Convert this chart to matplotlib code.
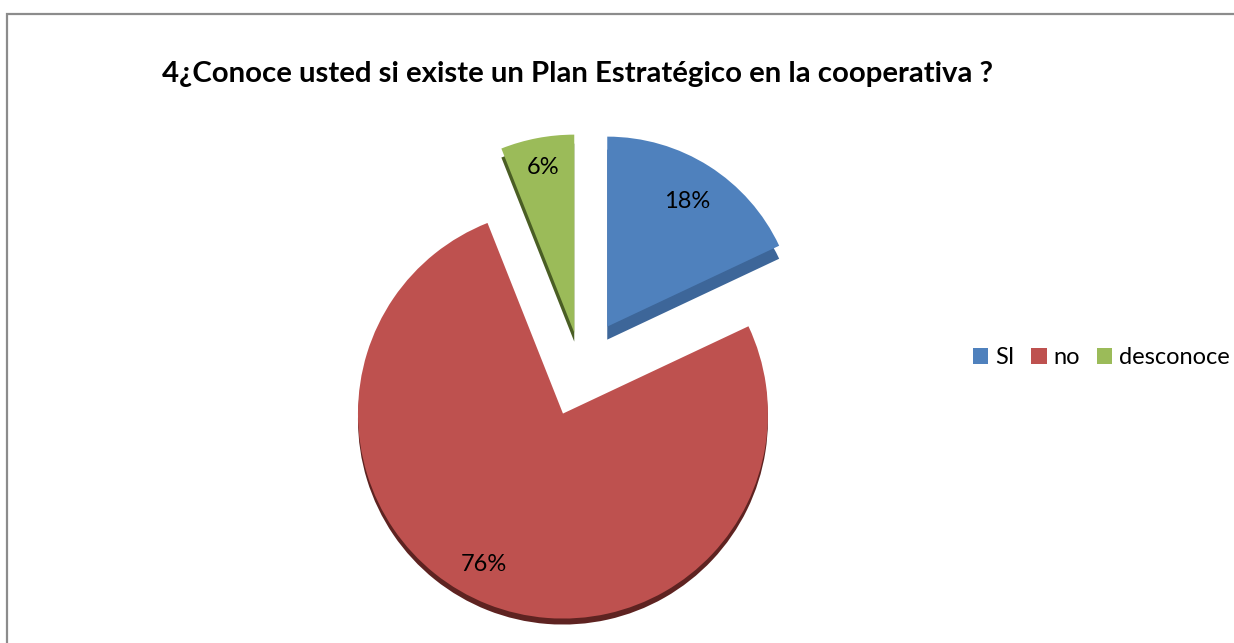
import matplotlib
matplotlib.use("Agg")
import matplotlib.pyplot as plt
from matplotlib.patches import Rectangle, Wedge
import numpy as np

# Survey answers (percent of respondents)
categories = ["SI", "no", "desconoce"]
shares = [18, 76, 6]
title = "4¿Conoce usted si existe un Plan Estratégico en la cooperativa ?"

W, H = 1234, 643
fig = plt.figure(figsize=(W / 100, H / 100), dpi=100)
fig.patch.set_facecolor("white")
plt.rcParams["font.family"] = ["Lato", "DejaVu Sans"]

# chart-area border (runs past the right and bottom edges)
fig.add_artist(Rectangle((7 / W, -0.1), 1.2, (H - 14) / H + 0.1,
                         transform=fig.transFigure, fill=False,
                         edgecolor="#8c8c8c", linewidth=1.6, zorder=0))

R = 200.0            # pie radius in pixels
cx, cy = 581, 368    # pie centre in pixels, measured from the top-left
ax = fig.add_axes([0, 0, 1, 1])

top_colors = ["#4F81BD", "#BE514F", "#9BBB59"]
side_colors = ["#3D6699", "#5E2321", "#4A5E24"]
depth_px = [13, 6, 9]
explode = [0.245, 0.245, 0.18]
# slight perspective: the near (lower) slice looks larger than the far ones
radius_scale = [0.95, 1.025, 0.99]
label_dist = [0.78, 0.83, 0.85]
label_turn = [0, -6, 0]

wedges, _, autotexts = ax.pie(
    shares, explode=explode, colors=top_colors, startangle=90,
    counterclock=False, autopct="%1.0f%%", radius=1.0,
    wedgeprops=dict(linewidth=0, zorder=3),
    textprops=dict(fontsize=17, color="black"))

for w, s in zip(wedges, radius_scale):
    w.set_radius(w.r * s)

# darker side faces give the slices some thickness
for w, side, d in zip(wedges, side_colors, depth_px):
    x0, y0 = w.center
    ax.add_patch(Wedge((x0, y0 - d / R), w.r, w.theta1, w.theta2,
                       facecolor=side, linewidth=0, zorder=2))

for w, t, f, turn in zip(wedges, autotexts, label_dist, label_turn):
    mid = np.deg2rad((w.theta1 + w.theta2) / 2 + turn)
    x0, y0 = w.center
    t.set_position((x0 + f * w.r * np.cos(mid), y0 + f * w.r * np.sin(mid)))
    t.set_zorder(5)

ax.set_xlim(-cx / R, (W - cx) / R)
ax.set_ylim(-(H - cy) / R, cy / R)
ax.axis("off")

fig.text(162 / W, 1 - 82 / H, title, ha="left", va="baseline",
         fontsize=21.2, fontweight="bold", color="black")

ax.legend(wedges, categories, loc="center left",
          bbox_to_anchor=(973 / W, 1 - 358 / H), bbox_transform=fig.transFigure,
          ncol=3, frameon=False, fontsize=17, handlelength=0.65,
          handleheight=0.65, handletextpad=0.3, columnspacing=0.7,
          borderpad=0, borderaxespad=0)

fig.savefig("out.png", dpi=100, facecolor="white")
